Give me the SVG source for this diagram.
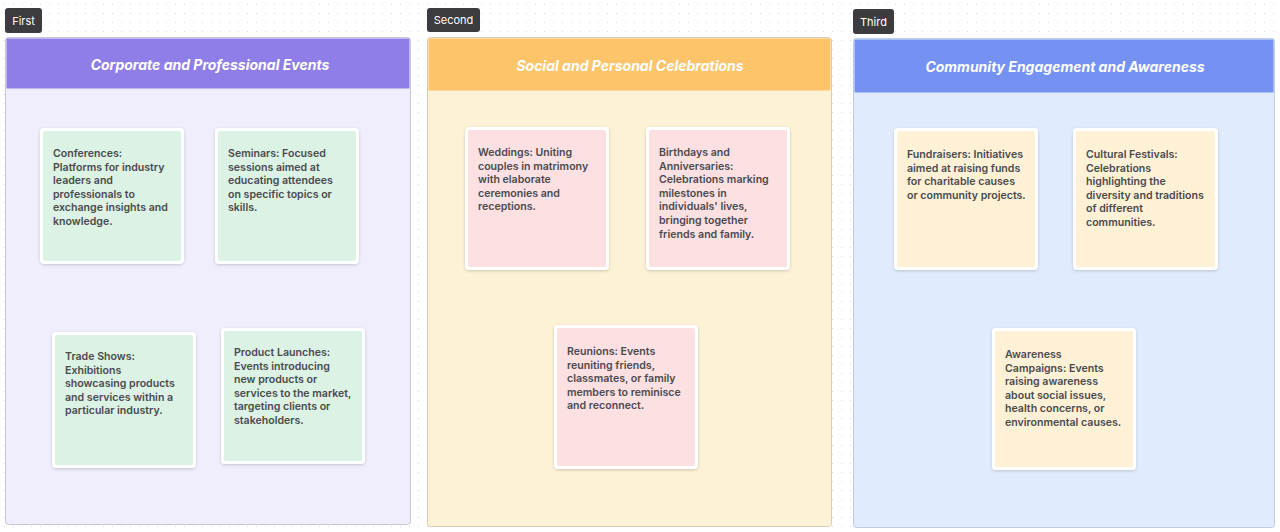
<svg xmlns="http://www.w3.org/2000/svg" width="1280" height="532" viewBox="0 0 1280 532">
<defs>
<pattern id="dots" width="9" height="9" patternUnits="userSpaceOnUse">
<rect x="4" y="4" width="1" height="1" fill="#d4d4dc"/>
</pattern>
<filter id="sh" x="-10%" y="-10%" width="120%" height="120%">
<feDropShadow dx="0" dy="1" stdDeviation="1.5" flood-color="#000" flood-opacity="0.18"/>
</filter>
</defs>
<style>
.tag{fill:#3b3b40}
.tagt{font-family:Inter,"Liberation Sans",sans-serif;font-size:11px;fill:#fff}
.title{font-family:Inter,"Open Sans","Liberation Sans",sans-serif;font-size:14px;font-weight:700;font-style:italic;fill:#fff}
.card{fill:#fff;filter:url(#sh)}
.t{font-family:Inter,"Liberation Sans",sans-serif;font-size:10.6px;font-weight:600;fill:#4a4a4f}
.g{fill:#dcf2e5}.p{fill:#fde0e2}.y{fill:#fef1d5}
</style>
<rect width="1280" height="532" fill="#fff"/>
<rect width="1280" height="532" fill="url(#dots)"/>

<g id="first">
<rect x="5.5" y="37.5" width="405" height="487" rx="3" fill="#f0eefd" stroke="#c9c8d2"/>
<rect x="6.5" y="38.5" width="403" height="50" fill="#8f7ee7"/>
<text class="title" x="210" y="70" text-anchor="middle">Corporate and Professional Events</text>
<rect class="tag" x="5" y="8" width="37" height="25" rx="3"/>
<text class="tagt" x="23.5" y="24.5" text-anchor="middle">First</text>
</g>

<g id="second">
<rect x="427.5" y="37.5" width="404" height="489" rx="3" fill="#fdf1d6" stroke="#d8cdb4"/>
<rect x="428.5" y="38.5" width="402" height="52" fill="#fec46a"/>
<text class="title" x="630" y="71" text-anchor="middle">Social and Personal Celebrations</text>
<rect class="tag" x="427" y="8" width="53" height="24" rx="3"/>
<text class="tagt" x="453.5" y="24" text-anchor="middle">Second</text>
</g>

<g id="third">
<rect x="853.5" y="38.5" width="421" height="489" rx="3" fill="#e0ecfd" stroke="#c2ccdc"/>
<rect x="854.5" y="39.5" width="419" height="53" fill="#7592f2"/>
<text class="title" x="1065" y="72" text-anchor="middle">Community Engagement and Awareness</text>
<rect class="tag" x="853" y="9" width="41" height="25" rx="3"/>
<text class="tagt" x="873.5" y="25.5" text-anchor="middle">Third</text>
</g>

<g id="conferences">
<rect class="card" x="40" y="128" width="144" height="136" rx="4"/>
<rect class="g" x="43" y="131" width="138" height="130" rx="2"/>
<text class="t" x="53" y="157"><tspan x="53">Conferences:</tspan><tspan x="53" dy="13.6">Platforms for industry</tspan><tspan x="53" dy="13.6">leaders and</tspan><tspan x="53" dy="13.6">professionals to</tspan><tspan x="53" dy="13.6">exchange insights and</tspan><tspan x="53" dy="13.6">knowledge.</tspan></text>
</g>
<g id="seminars">
<rect class="card" x="215" y="128" width="144" height="136" rx="4"/>
<rect class="g" x="218" y="131" width="138" height="130" rx="2"/>
<text class="t" x="228" y="157"><tspan x="228">Seminars: Focused</tspan><tspan x="228" dy="13.6">sessions aimed at</tspan><tspan x="228" dy="13.6">educating attendees</tspan><tspan x="228" dy="13.6">on specific topics or</tspan><tspan x="228" dy="13.6">skills.</tspan></text>
</g>
<g id="tradeshows">
<rect class="card" x="52" y="332" width="144" height="136" rx="4"/>
<rect class="g" x="55" y="335" width="138" height="130" rx="2"/>
<text class="t" x="65" y="360"><tspan x="65">Trade Shows:</tspan><tspan x="65" dy="13.6">Exhibitions</tspan><tspan x="65" dy="13.6">showcasing products</tspan><tspan x="65" dy="13.6">and services within a</tspan><tspan x="65" dy="13.6">particular industry.</tspan></text>
</g>
<g id="launches">
<rect class="card" x="221" y="328" width="144" height="136" rx="4"/>
<rect class="g" x="224" y="331" width="138" height="130" rx="2"/>
<text class="t" x="234" y="356"><tspan x="234">Product Launches:</tspan><tspan x="234" dy="13.6">Events introducing</tspan><tspan x="234" dy="13.6">new products or</tspan><tspan x="234" dy="13.6">services to the market,</tspan><tspan x="234" dy="13.6">targeting clients or</tspan><tspan x="234" dy="13.6">stakeholders.</tspan></text>
</g>

<g id="weddings">
<rect class="card" x="465" y="127" width="144" height="143" rx="4"/>
<rect class="p" x="468" y="130" width="138" height="137" rx="2"/>
<text class="t" x="478" y="156"><tspan x="478">Weddings: Uniting</tspan><tspan x="478" dy="13.6">couples in matrimony</tspan><tspan x="478" dy="13.6">with elaborate</tspan><tspan x="478" dy="13.6">ceremonies and</tspan><tspan x="478" dy="13.6">receptions.</tspan></text>
</g>
<g id="birthdays">
<rect class="card" x="646" y="127" width="144" height="143" rx="4"/>
<rect class="p" x="649" y="130" width="138" height="137" rx="2"/>
<text class="t" x="659" y="156"><tspan x="659">Birthdays and</tspan><tspan x="659" dy="13.6">Anniversaries:</tspan><tspan x="659" dy="13.6">Celebrations marking</tspan><tspan x="659" dy="13.6">milestones in</tspan><tspan x="659" dy="13.6">individuals' lives,</tspan><tspan x="659" dy="13.6">bringing together</tspan><tspan x="659" dy="13.6">friends and family.</tspan></text>
</g>
<g id="reunions">
<rect class="card" x="554" y="325" width="144" height="144" rx="4"/>
<rect class="p" x="557" y="328" width="138" height="138" rx="2"/>
<text class="t" x="567" y="355"><tspan x="567">Reunions: Events</tspan><tspan x="567" dy="13.6">reuniting friends,</tspan><tspan x="567" dy="13.6">classmates, or family</tspan><tspan x="567" dy="13.6">members to reminisce</tspan><tspan x="567" dy="13.6">and reconnect.</tspan></text>
</g>

<g id="fundraisers">
<rect class="card" x="894" y="128" width="144" height="142" rx="4"/>
<rect class="y" x="897" y="131" width="138" height="136" rx="2"/>
<text class="t" x="907" y="158"><tspan x="907">Fundraisers: Initiatives</tspan><tspan x="907" dy="13.6">aimed at raising funds</tspan><tspan x="907" dy="13.6">for charitable causes</tspan><tspan x="907" dy="13.6">or community projects.</tspan></text>
</g>
<g id="festivals">
<rect class="card" x="1073" y="128" width="145" height="142" rx="4"/>
<rect class="y" x="1076" y="131" width="139" height="136" rx="2"/>
<text class="t" x="1086" y="158"><tspan x="1086">Cultural Festivals:</tspan><tspan x="1086" dy="13.6">Celebrations</tspan><tspan x="1086" dy="13.6">highlighting the</tspan><tspan x="1086" dy="13.6">diversity and traditions</tspan><tspan x="1086" dy="13.6">of different</tspan><tspan x="1086" dy="13.6">communities.</tspan></text>
</g>
<g id="awareness">
<rect class="card" x="992" y="328" width="144" height="142" rx="4"/>
<rect class="y" x="995" y="331" width="138" height="136" rx="2"/>
<text class="t" x="1005" y="358"><tspan x="1005">Awareness</tspan><tspan x="1005" dy="13.6">Campaigns: Events</tspan><tspan x="1005" dy="13.6">raising awareness</tspan><tspan x="1005" dy="13.6">about social issues,</tspan><tspan x="1005" dy="13.6">health concerns, or</tspan><tspan x="1005" dy="13.6">environmental causes.</tspan></text>
</g>
<g id="connectors"></g>
</svg>
